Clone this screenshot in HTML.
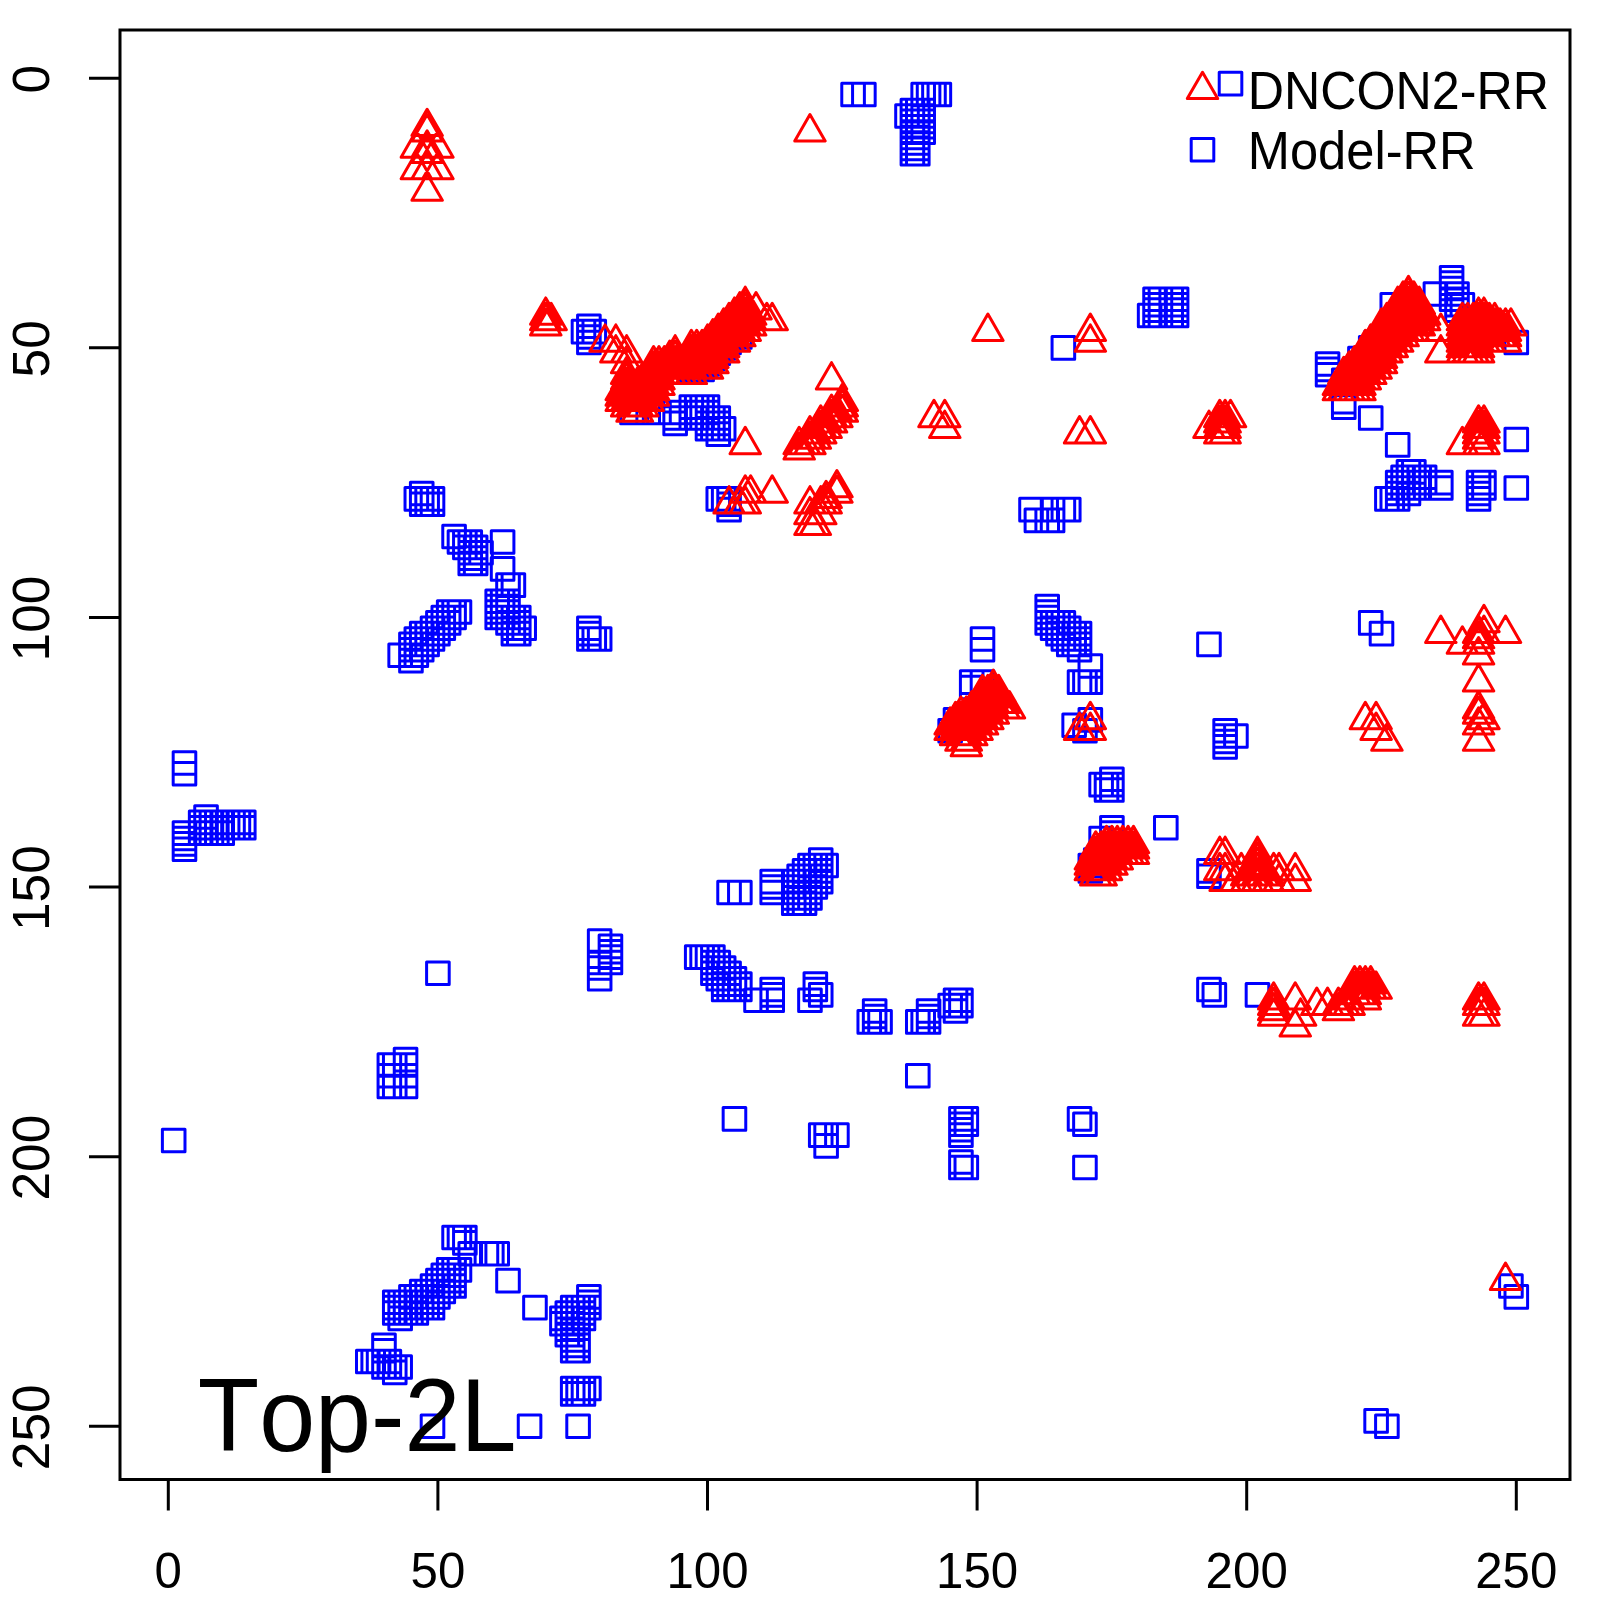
<!DOCTYPE html>
<html><head><meta charset="utf-8"><style>
html,body{margin:0;padding:0;background:#fff;width:1600px;height:1600px;overflow:hidden}
svg{display:block}
text{font-family:"Liberation Sans",sans-serif;fill:#000;font-kerning:none}
</style></head><body>
<svg width="1600" height="1600" viewBox="0 0 1600 1600">
<rect x="0" y="0" width="1600" height="1600" fill="#fff"/>
<path d="M1219.22 72.34h22.60v22.60h-22.60zM841.78 83.13h22.60v22.60h-22.60zM852.57 83.13h22.60v22.60h-22.60zM1364.81 1409.56h22.60v22.60h-22.60zM1375.59 1414.95h22.60v22.60h-22.60zM911.88 83.13h22.60v22.60h-22.60zM917.27 83.13h22.60v22.60h-22.60zM922.66 83.13h22.60v22.60h-22.60zM928.06 83.13h22.60v22.60h-22.60zM895.70 104.69h22.60v22.60h-22.60zM901.10 99.30h22.60v22.60h-22.60zM901.10 104.69h22.60v22.60h-22.60zM901.10 110.09h22.60v22.60h-22.60zM901.10 115.48h22.60v22.60h-22.60zM901.10 120.87h22.60v22.60h-22.60zM901.10 126.26h22.60v22.60h-22.60zM901.10 131.65h22.60v22.60h-22.60zM901.10 137.05h22.60v22.60h-22.60zM901.10 142.44h22.60v22.60h-22.60zM906.49 99.30h22.60v22.60h-22.60zM906.49 104.69h22.60v22.60h-22.60zM906.49 110.09h22.60v22.60h-22.60zM906.49 115.48h22.60v22.60h-22.60zM906.49 120.87h22.60v22.60h-22.60zM906.49 126.26h22.60v22.60h-22.60zM906.49 131.65h22.60v22.60h-22.60zM906.49 137.05h22.60v22.60h-22.60zM906.49 142.44h22.60v22.60h-22.60zM911.88 99.30h22.60v22.60h-22.60zM911.88 104.69h22.60v22.60h-22.60zM911.88 110.09h22.60v22.60h-22.60zM911.88 115.48h22.60v22.60h-22.60zM911.88 120.87h22.60v22.60h-22.60zM410.42 482.13h22.60v22.60h-22.60zM405.03 487.53h22.60v22.60h-22.60zM410.42 487.53h22.60v22.60h-22.60zM415.82 487.53h22.60v22.60h-22.60zM421.21 487.53h22.60v22.60h-22.60zM410.42 492.92h22.60v22.60h-22.60zM415.82 492.92h22.60v22.60h-22.60zM421.21 492.92h22.60v22.60h-22.60zM442.78 525.27h22.60v22.60h-22.60zM448.17 530.66h22.60v22.60h-22.60zM453.56 530.66h22.60v22.60h-22.60zM458.95 530.66h22.60v22.60h-22.60zM453.56 536.05h22.60v22.60h-22.60zM458.95 536.05h22.60v22.60h-22.60zM464.34 536.05h22.60v22.60h-22.60zM458.95 541.45h22.60v22.60h-22.60zM464.34 541.45h22.60v22.60h-22.60zM469.74 541.45h22.60v22.60h-22.60zM458.95 546.84h22.60v22.60h-22.60zM464.34 546.84h22.60v22.60h-22.60zM458.95 552.23h22.60v22.60h-22.60zM464.34 552.23h22.60v22.60h-22.60zM491.30 530.66h22.60v22.60h-22.60zM491.30 557.62h22.60v22.60h-22.60zM496.70 573.80h22.60v22.60h-22.60zM502.09 573.80h22.60v22.60h-22.60zM399.64 633.11h22.60v22.60h-22.60zM399.64 638.50h22.60v22.60h-22.60zM399.64 643.89h22.60v22.60h-22.60zM399.64 649.29h22.60v22.60h-22.60zM405.03 627.72h22.60v22.60h-22.60zM405.03 633.11h22.60v22.60h-22.60zM405.03 638.50h22.60v22.60h-22.60zM405.03 643.89h22.60v22.60h-22.60zM410.42 622.33h22.60v22.60h-22.60zM410.42 627.72h22.60v22.60h-22.60zM410.42 633.11h22.60v22.60h-22.60zM410.42 638.50h22.60v22.60h-22.60zM415.82 622.33h22.60v22.60h-22.60zM415.82 627.72h22.60v22.60h-22.60zM415.82 633.11h22.60v22.60h-22.60zM421.21 616.93h22.60v22.60h-22.60zM421.21 622.33h22.60v22.60h-22.60zM421.21 627.72h22.60v22.60h-22.60zM426.60 611.54h22.60v22.60h-22.60zM426.60 616.93h22.60v22.60h-22.60zM426.60 622.33h22.60v22.60h-22.60zM431.99 606.15h22.60v22.60h-22.60zM431.99 611.54h22.60v22.60h-22.60zM431.99 616.93h22.60v22.60h-22.60zM437.38 600.76h22.60v22.60h-22.60zM437.38 606.15h22.60v22.60h-22.60zM437.38 611.54h22.60v22.60h-22.60zM442.78 600.76h22.60v22.60h-22.60zM442.78 606.15h22.60v22.60h-22.60zM448.17 600.76h22.60v22.60h-22.60zM388.86 643.89h22.60v22.60h-22.60zM485.91 589.97h22.60v22.60h-22.60zM485.91 595.37h22.60v22.60h-22.60zM485.91 600.76h22.60v22.60h-22.60zM485.91 606.15h22.60v22.60h-22.60zM491.30 589.97h22.60v22.60h-22.60zM491.30 595.37h22.60v22.60h-22.60zM491.30 600.76h22.60v22.60h-22.60zM491.30 606.15h22.60v22.60h-22.60zM496.70 589.97h22.60v22.60h-22.60zM496.70 595.37h22.60v22.60h-22.60zM496.70 600.76h22.60v22.60h-22.60zM496.70 606.15h22.60v22.60h-22.60zM496.70 611.54h22.60v22.60h-22.60zM502.09 606.15h22.60v22.60h-22.60zM502.09 611.54h22.60v22.60h-22.60zM502.09 616.93h22.60v22.60h-22.60zM502.09 622.33h22.60v22.60h-22.60zM507.48 606.15h22.60v22.60h-22.60zM507.48 611.54h22.60v22.60h-22.60zM507.48 616.93h22.60v22.60h-22.60zM507.48 622.33h22.60v22.60h-22.60zM512.87 616.93h22.60v22.60h-22.60zM577.58 314.98h22.60v22.60h-22.60zM572.18 320.37h22.60v22.60h-22.60zM577.58 320.37h22.60v22.60h-22.60zM582.97 320.37h22.60v22.60h-22.60zM577.58 325.77h22.60v22.60h-22.60zM577.58 331.16h22.60v22.60h-22.60zM620.71 401.25h22.60v22.60h-22.60zM636.89 401.25h22.60v22.60h-22.60zM647.67 401.25h22.60v22.60h-22.60zM663.85 401.25h22.60v22.60h-22.60zM663.85 406.65h22.60v22.60h-22.60zM663.85 412.04h22.60v22.60h-22.60zM680.02 358.12h22.60v22.60h-22.60zM685.42 358.12h22.60v22.60h-22.60zM690.81 358.12h22.60v22.60h-22.60zM680.02 352.73h22.60v22.60h-22.60zM696.20 352.73h22.60v22.60h-22.60zM701.59 347.33h22.60v22.60h-22.60zM712.38 336.55h22.60v22.60h-22.60zM717.77 331.16h22.60v22.60h-22.60zM723.16 325.77h22.60v22.60h-22.60zM728.55 325.77h22.60v22.60h-22.60zM706.98 341.94h22.60v22.60h-22.60zM680.02 395.86h22.60v22.60h-22.60zM680.02 401.25h22.60v22.60h-22.60zM680.02 406.65h22.60v22.60h-22.60zM685.42 395.86h22.60v22.60h-22.60zM685.42 401.25h22.60v22.60h-22.60zM685.42 406.65h22.60v22.60h-22.60zM690.81 395.86h22.60v22.60h-22.60zM690.81 401.25h22.60v22.60h-22.60zM690.81 406.65h22.60v22.60h-22.60zM696.20 395.86h22.60v22.60h-22.60zM696.20 401.25h22.60v22.60h-22.60zM696.20 406.65h22.60v22.60h-22.60zM696.20 406.65h22.60v22.60h-22.60zM696.20 412.04h22.60v22.60h-22.60zM696.20 417.43h22.60v22.60h-22.60zM701.59 406.65h22.60v22.60h-22.60zM701.59 412.04h22.60v22.60h-22.60zM701.59 417.43h22.60v22.60h-22.60zM706.98 406.65h22.60v22.60h-22.60zM706.98 412.04h22.60v22.60h-22.60zM706.98 417.43h22.60v22.60h-22.60zM712.38 417.43h22.60v22.60h-22.60zM706.98 422.82h22.60v22.60h-22.60zM706.98 487.53h22.60v22.60h-22.60zM712.38 487.53h22.60v22.60h-22.60zM717.77 487.53h22.60v22.60h-22.60zM717.77 492.92h22.60v22.60h-22.60zM717.77 498.31h22.60v22.60h-22.60zM1052.07 336.55h22.60v22.60h-22.60zM1143.74 288.02h22.60v22.60h-22.60zM1143.74 293.41h22.60v22.60h-22.60zM1143.74 298.81h22.60v22.60h-22.60zM1143.74 304.20h22.60v22.60h-22.60zM1149.13 288.02h22.60v22.60h-22.60zM1149.13 293.41h22.60v22.60h-22.60zM1149.13 298.81h22.60v22.60h-22.60zM1149.13 304.20h22.60v22.60h-22.60zM1159.91 288.02h22.60v22.60h-22.60zM1159.91 293.41h22.60v22.60h-22.60zM1159.91 298.81h22.60v22.60h-22.60zM1159.91 304.20h22.60v22.60h-22.60zM1165.30 288.02h22.60v22.60h-22.60zM1165.30 293.41h22.60v22.60h-22.60zM1165.30 298.81h22.60v22.60h-22.60zM1165.30 304.20h22.60v22.60h-22.60zM1138.34 304.20h22.60v22.60h-22.60zM1316.28 352.73h22.60v22.60h-22.60zM1316.28 358.12h22.60v22.60h-22.60zM1316.28 363.51h22.60v22.60h-22.60zM1332.46 368.90h22.60v22.60h-22.60zM1348.63 347.33h22.60v22.60h-22.60zM1359.42 336.55h22.60v22.60h-22.60zM1364.81 331.16h22.60v22.60h-22.60zM1370.20 325.77h22.60v22.60h-22.60zM1380.98 293.41h22.60v22.60h-22.60zM1424.12 282.63h22.60v22.60h-22.60zM1440.30 266.45h22.60v22.60h-22.60zM1440.30 271.85h22.60v22.60h-22.60zM1440.30 277.24h22.60v22.60h-22.60zM1440.30 282.63h22.60v22.60h-22.60zM1440.30 288.02h22.60v22.60h-22.60zM1445.69 282.63h22.60v22.60h-22.60zM1445.69 288.02h22.60v22.60h-22.60zM1445.69 293.41h22.60v22.60h-22.60zM1445.69 298.81h22.60v22.60h-22.60zM1451.08 293.41h22.60v22.60h-22.60zM1505.00 331.16h22.60v22.60h-22.60zM1332.46 390.47h22.60v22.60h-22.60zM1332.46 395.86h22.60v22.60h-22.60zM1359.42 406.65h22.60v22.60h-22.60zM1386.38 433.61h22.60v22.60h-22.60zM1505.00 428.21h22.60v22.60h-22.60zM1505.00 476.74h22.60v22.60h-22.60zM1467.26 471.35h22.60v22.60h-22.60zM1467.26 476.74h22.60v22.60h-22.60zM1467.26 482.13h22.60v22.60h-22.60zM1467.26 487.53h22.60v22.60h-22.60zM1472.65 471.35h22.60v22.60h-22.60zM1472.65 476.74h22.60v22.60h-22.60zM1397.16 460.57h22.60v22.60h-22.60zM1402.55 460.57h22.60v22.60h-22.60zM1413.34 465.96h22.60v22.60h-22.60zM1413.34 471.35h22.60v22.60h-22.60zM1386.38 471.35h22.60v22.60h-22.60zM1386.38 476.74h22.60v22.60h-22.60zM1386.38 482.13h22.60v22.60h-22.60zM1386.38 487.53h22.60v22.60h-22.60zM1375.59 487.53h22.60v22.60h-22.60zM1380.98 487.53h22.60v22.60h-22.60zM1429.51 471.35h22.60v22.60h-22.60zM1429.51 476.74h22.60v22.60h-22.60zM1391.77 465.96h22.60v22.60h-22.60zM1391.77 471.35h22.60v22.60h-22.60zM1391.77 476.74h22.60v22.60h-22.60zM1397.16 465.96h22.60v22.60h-22.60zM1397.16 471.35h22.60v22.60h-22.60zM1397.16 476.74h22.60v22.60h-22.60zM1402.55 465.96h22.60v22.60h-22.60zM1402.55 471.35h22.60v22.60h-22.60zM1402.55 476.74h22.60v22.60h-22.60zM1407.94 465.96h22.60v22.60h-22.60zM1407.94 471.35h22.60v22.60h-22.60zM1407.94 476.74h22.60v22.60h-22.60zM1397.16 482.13h22.60v22.60h-22.60zM1197.66 633.11h22.60v22.60h-22.60zM1359.42 611.54h22.60v22.60h-22.60zM1370.20 622.33h22.60v22.60h-22.60zM1213.83 719.38h22.60v22.60h-22.60zM1213.83 724.77h22.60v22.60h-22.60zM1213.83 730.17h22.60v22.60h-22.60zM1213.83 735.56h22.60v22.60h-22.60zM1224.62 724.77h22.60v22.60h-22.60zM1154.52 816.44h22.60v22.60h-22.60zM1197.66 859.57h22.60v22.60h-22.60zM1197.66 864.97h22.60v22.60h-22.60zM1197.66 978.20h22.60v22.60h-22.60zM1203.05 983.59h22.60v22.60h-22.60zM1246.18 983.59h22.60v22.60h-22.60zM971.19 627.72h22.60v22.60h-22.60zM971.19 638.50h22.60v22.60h-22.60zM960.41 670.85h22.60v22.60h-22.60zM971.19 670.85h22.60v22.60h-22.60zM944.23 708.60h22.60v22.60h-22.60zM938.84 719.38h22.60v22.60h-22.60zM1035.90 595.37h22.60v22.60h-22.60zM1035.90 600.76h22.60v22.60h-22.60zM1035.90 606.15h22.60v22.60h-22.60zM1035.90 611.54h22.60v22.60h-22.60zM1041.29 611.54h22.60v22.60h-22.60zM1041.29 616.93h22.60v22.60h-22.60zM1046.68 611.54h22.60v22.60h-22.60zM1046.68 616.93h22.60v22.60h-22.60zM1046.68 622.33h22.60v22.60h-22.60zM1052.07 611.54h22.60v22.60h-22.60zM1052.07 616.93h22.60v22.60h-22.60zM1052.07 622.33h22.60v22.60h-22.60zM1052.07 627.72h22.60v22.60h-22.60zM1057.46 616.93h22.60v22.60h-22.60zM1057.46 622.33h22.60v22.60h-22.60zM1057.46 627.72h22.60v22.60h-22.60zM1057.46 633.11h22.60v22.60h-22.60zM1062.86 622.33h22.60v22.60h-22.60zM1062.86 627.72h22.60v22.60h-22.60zM1062.86 633.11h22.60v22.60h-22.60zM1068.25 622.33h22.60v22.60h-22.60zM1068.25 627.72h22.60v22.60h-22.60zM1068.25 633.11h22.60v22.60h-22.60zM1068.25 638.50h22.60v22.60h-22.60zM1079.03 654.68h22.60v22.60h-22.60zM1068.25 670.85h22.60v22.60h-22.60zM1073.64 670.85h22.60v22.60h-22.60zM1079.03 670.85h22.60v22.60h-22.60zM1062.86 713.99h22.60v22.60h-22.60zM1079.03 708.60h22.60v22.60h-22.60zM1073.64 719.38h22.60v22.60h-22.60zM1089.82 773.30h22.60v22.60h-22.60zM1095.21 773.30h22.60v22.60h-22.60zM1100.60 767.91h22.60v22.60h-22.60zM1100.60 773.30h22.60v22.60h-22.60zM1100.60 778.69h22.60v22.60h-22.60zM1095.21 778.69h22.60v22.60h-22.60zM1100.60 816.44h22.60v22.60h-22.60zM1100.60 821.83h22.60v22.60h-22.60zM1089.82 827.22h22.60v22.60h-22.60zM1084.42 848.79h22.60v22.60h-22.60zM1079.03 854.18h22.60v22.60h-22.60zM1079.03 859.57h22.60v22.60h-22.60zM717.77 881.14h22.60v22.60h-22.60zM728.55 881.14h22.60v22.60h-22.60zM960.41 676.25h22.60v22.60h-22.60zM760.90 870.36h22.60v22.60h-22.60zM760.90 875.75h22.60v22.60h-22.60zM760.90 881.14h22.60v22.60h-22.60zM782.47 891.93h22.60v22.60h-22.60zM787.86 891.93h22.60v22.60h-22.60zM793.26 891.93h22.60v22.60h-22.60zM782.47 870.36h22.60v22.60h-22.60zM782.47 875.75h22.60v22.60h-22.60zM782.47 881.14h22.60v22.60h-22.60zM782.47 886.53h22.60v22.60h-22.60zM782.47 891.93h22.60v22.60h-22.60zM787.86 864.97h22.60v22.60h-22.60zM787.86 870.36h22.60v22.60h-22.60zM787.86 875.75h22.60v22.60h-22.60zM787.86 881.14h22.60v22.60h-22.60zM787.86 886.53h22.60v22.60h-22.60zM787.86 891.93h22.60v22.60h-22.60zM793.26 859.57h22.60v22.60h-22.60zM793.26 864.97h22.60v22.60h-22.60zM793.26 870.36h22.60v22.60h-22.60zM793.26 875.75h22.60v22.60h-22.60zM793.26 881.14h22.60v22.60h-22.60zM793.26 886.53h22.60v22.60h-22.60zM793.26 891.93h22.60v22.60h-22.60zM798.65 854.18h22.60v22.60h-22.60zM798.65 859.57h22.60v22.60h-22.60zM798.65 864.97h22.60v22.60h-22.60zM798.65 870.36h22.60v22.60h-22.60zM798.65 875.75h22.60v22.60h-22.60zM798.65 881.14h22.60v22.60h-22.60zM798.65 886.53h22.60v22.60h-22.60zM804.04 854.18h22.60v22.60h-22.60zM804.04 859.57h22.60v22.60h-22.60zM804.04 864.97h22.60v22.60h-22.60zM804.04 870.36h22.60v22.60h-22.60zM804.04 875.75h22.60v22.60h-22.60zM809.43 848.79h22.60v22.60h-22.60zM809.43 854.18h22.60v22.60h-22.60zM809.43 859.57h22.60v22.60h-22.60zM809.43 864.97h22.60v22.60h-22.60zM809.43 870.36h22.60v22.60h-22.60zM814.82 854.18h22.60v22.60h-22.60zM685.42 945.85h22.60v22.60h-22.60zM690.81 945.85h22.60v22.60h-22.60zM696.20 945.85h22.60v22.60h-22.60zM701.59 945.85h22.60v22.60h-22.60zM701.59 951.24h22.60v22.60h-22.60zM701.59 956.63h22.60v22.60h-22.60zM701.59 962.02h22.60v22.60h-22.60zM706.98 951.24h22.60v22.60h-22.60zM706.98 956.63h22.60v22.60h-22.60zM706.98 962.02h22.60v22.60h-22.60zM706.98 967.41h22.60v22.60h-22.60zM712.38 956.63h22.60v22.60h-22.60zM712.38 962.02h22.60v22.60h-22.60zM712.38 967.41h22.60v22.60h-22.60zM712.38 972.81h22.60v22.60h-22.60zM712.38 978.20h22.60v22.60h-22.60zM717.77 962.02h22.60v22.60h-22.60zM717.77 967.41h22.60v22.60h-22.60zM717.77 972.81h22.60v22.60h-22.60zM717.77 978.20h22.60v22.60h-22.60zM723.16 967.41h22.60v22.60h-22.60zM723.16 972.81h22.60v22.60h-22.60zM723.16 978.20h22.60v22.60h-22.60zM728.55 972.81h22.60v22.60h-22.60zM728.55 978.20h22.60v22.60h-22.60zM744.73 988.98h22.60v22.60h-22.60zM760.90 978.20h22.60v22.60h-22.60zM760.90 983.59h22.60v22.60h-22.60zM760.90 988.98h22.60v22.60h-22.60zM804.04 972.81h22.60v22.60h-22.60zM804.04 978.20h22.60v22.60h-22.60zM809.43 983.59h22.60v22.60h-22.60zM798.65 988.98h22.60v22.60h-22.60zM863.35 999.77h22.60v22.60h-22.60zM857.96 1010.55h22.60v22.60h-22.60zM863.35 1010.55h22.60v22.60h-22.60zM868.74 1010.55h22.60v22.60h-22.60zM863.35 1005.16h22.60v22.60h-22.60zM588.36 929.67h22.60v22.60h-22.60zM588.36 951.24h22.60v22.60h-22.60zM588.36 956.63h22.60v22.60h-22.60zM588.36 967.41h22.60v22.60h-22.60zM599.14 935.06h22.60v22.60h-22.60zM599.14 940.45h22.60v22.60h-22.60zM599.14 945.85h22.60v22.60h-22.60zM599.14 951.24h22.60v22.60h-22.60zM917.27 999.77h22.60v22.60h-22.60zM917.27 1005.16h22.60v22.60h-22.60zM906.49 1010.55h22.60v22.60h-22.60zM911.88 1010.55h22.60v22.60h-22.60zM917.27 1010.55h22.60v22.60h-22.60zM938.84 994.37h22.60v22.60h-22.60zM944.23 988.98h22.60v22.60h-22.60zM949.62 988.98h22.60v22.60h-22.60zM944.23 994.37h22.60v22.60h-22.60zM949.62 994.37h22.60v22.60h-22.60zM944.23 999.77h22.60v22.60h-22.60zM906.49 1064.47h22.60v22.60h-22.60zM949.62 1107.61h22.60v22.60h-22.60zM949.62 1113.00h22.60v22.60h-22.60zM949.62 1118.39h22.60v22.60h-22.60zM949.62 1123.78h22.60v22.60h-22.60zM955.02 1107.61h22.60v22.60h-22.60zM955.02 1113.00h22.60v22.60h-22.60zM949.62 1150.74h22.60v22.60h-22.60zM949.62 1156.13h22.60v22.60h-22.60zM955.02 1156.13h22.60v22.60h-22.60zM825.61 1123.78h22.60v22.60h-22.60zM1068.25 1107.61h22.60v22.60h-22.60zM1073.64 1113.00h22.60v22.60h-22.60zM1073.64 1156.13h22.60v22.60h-22.60zM723.16 1107.61h22.60v22.60h-22.60zM809.43 1123.78h22.60v22.60h-22.60zM814.82 1123.78h22.60v22.60h-22.60zM825.61 1123.78h22.60v22.60h-22.60zM814.82 1134.57h22.60v22.60h-22.60zM173.18 751.73h22.60v22.60h-22.60zM173.18 762.52h22.60v22.60h-22.60zM173.18 821.83h22.60v22.60h-22.60zM173.18 827.22h22.60v22.60h-22.60zM173.18 832.61h22.60v22.60h-22.60zM173.18 838.01h22.60v22.60h-22.60zM194.74 805.65h22.60v22.60h-22.60zM189.35 811.05h22.60v22.60h-22.60zM194.74 811.05h22.60v22.60h-22.60zM200.14 811.05h22.60v22.60h-22.60zM205.53 811.05h22.60v22.60h-22.60zM210.92 811.05h22.60v22.60h-22.60zM216.31 811.05h22.60v22.60h-22.60zM221.70 811.05h22.60v22.60h-22.60zM227.10 811.05h22.60v22.60h-22.60zM232.49 811.05h22.60v22.60h-22.60zM216.31 816.44h22.60v22.60h-22.60zM221.70 816.44h22.60v22.60h-22.60zM227.10 816.44h22.60v22.60h-22.60zM232.49 816.44h22.60v22.60h-22.60zM189.35 816.44h22.60v22.60h-22.60zM189.35 821.83h22.60v22.60h-22.60zM194.74 816.44h22.60v22.60h-22.60zM194.74 821.83h22.60v22.60h-22.60zM200.14 816.44h22.60v22.60h-22.60zM200.14 821.83h22.60v22.60h-22.60zM205.53 816.44h22.60v22.60h-22.60zM205.53 821.83h22.60v22.60h-22.60zM210.92 816.44h22.60v22.60h-22.60zM210.92 821.83h22.60v22.60h-22.60zM426.60 962.02h22.60v22.60h-22.60zM162.39 1129.17h22.60v22.60h-22.60zM394.25 1048.29h22.60v22.60h-22.60zM378.07 1053.69h22.60v22.60h-22.60zM378.07 1064.47h22.60v22.60h-22.60zM378.07 1075.25h22.60v22.60h-22.60zM383.46 1053.69h22.60v22.60h-22.60zM383.46 1064.47h22.60v22.60h-22.60zM383.46 1075.25h22.60v22.60h-22.60zM394.25 1053.69h22.60v22.60h-22.60zM394.25 1064.47h22.60v22.60h-22.60zM394.25 1075.25h22.60v22.60h-22.60zM421.21 1414.95h22.60v22.60h-22.60zM518.26 1414.95h22.60v22.60h-22.60zM566.79 1414.95h22.60v22.60h-22.60zM561.40 1377.21h22.60v22.60h-22.60zM566.79 1377.21h22.60v22.60h-22.60zM572.18 1377.21h22.60v22.60h-22.60zM577.58 1377.21h22.60v22.60h-22.60zM561.40 1382.60h22.60v22.60h-22.60zM566.79 1382.60h22.60v22.60h-22.60zM572.18 1382.60h22.60v22.60h-22.60zM577.58 1285.54h22.60v22.60h-22.60zM577.58 1290.93h22.60v22.60h-22.60zM577.58 1296.33h22.60v22.60h-22.60zM561.40 1296.33h22.60v22.60h-22.60zM566.79 1296.33h22.60v22.60h-22.60zM572.18 1296.33h22.60v22.60h-22.60zM556.01 1301.72h22.60v22.60h-22.60zM561.40 1301.72h22.60v22.60h-22.60zM566.79 1301.72h22.60v22.60h-22.60zM572.18 1301.72h22.60v22.60h-22.60zM572.18 1307.11h22.60v22.60h-22.60zM550.62 1307.11h22.60v22.60h-22.60zM556.01 1307.11h22.60v22.60h-22.60zM561.40 1307.11h22.60v22.60h-22.60zM566.79 1307.11h22.60v22.60h-22.60zM550.62 1312.50h22.60v22.60h-22.60zM556.01 1312.50h22.60v22.60h-22.60zM561.40 1312.50h22.60v22.60h-22.60zM556.01 1317.89h22.60v22.60h-22.60zM561.40 1317.89h22.60v22.60h-22.60zM556.01 1323.29h22.60v22.60h-22.60zM561.40 1323.29h22.60v22.60h-22.60zM561.40 1328.68h22.60v22.60h-22.60zM561.40 1334.07h22.60v22.60h-22.60zM561.40 1339.46h22.60v22.60h-22.60zM566.79 1339.46h22.60v22.60h-22.60zM566.79 1328.68h22.60v22.60h-22.60zM566.79 1334.07h22.60v22.60h-22.60zM523.66 1296.33h22.60v22.60h-22.60zM496.70 1269.37h22.60v22.60h-22.60zM442.78 1226.23h22.60v22.60h-22.60zM448.17 1226.23h22.60v22.60h-22.60zM453.56 1226.23h22.60v22.60h-22.60zM453.56 1231.62h22.60v22.60h-22.60zM458.95 1242.41h22.60v22.60h-22.60zM475.13 1242.41h22.60v22.60h-22.60zM480.52 1242.41h22.60v22.60h-22.60zM485.91 1242.41h22.60v22.60h-22.60zM383.46 1290.93h22.60v22.60h-22.60zM383.46 1296.33h22.60v22.60h-22.60zM383.46 1301.72h22.60v22.60h-22.60zM388.86 1290.93h22.60v22.60h-22.60zM388.86 1296.33h22.60v22.60h-22.60zM388.86 1301.72h22.60v22.60h-22.60zM388.86 1307.11h22.60v22.60h-22.60zM394.25 1290.93h22.60v22.60h-22.60zM394.25 1296.33h22.60v22.60h-22.60zM394.25 1301.72h22.60v22.60h-22.60zM399.64 1285.54h22.60v22.60h-22.60zM399.64 1290.93h22.60v22.60h-22.60zM399.64 1296.33h22.60v22.60h-22.60zM399.64 1301.72h22.60v22.60h-22.60zM405.03 1285.54h22.60v22.60h-22.60zM405.03 1290.93h22.60v22.60h-22.60zM405.03 1296.33h22.60v22.60h-22.60zM405.03 1301.72h22.60v22.60h-22.60zM410.42 1280.15h22.60v22.60h-22.60zM410.42 1285.54h22.60v22.60h-22.60zM410.42 1290.93h22.60v22.60h-22.60zM410.42 1296.33h22.60v22.60h-22.60zM415.82 1280.15h22.60v22.60h-22.60zM415.82 1285.54h22.60v22.60h-22.60zM415.82 1290.93h22.60v22.60h-22.60zM415.82 1296.33h22.60v22.60h-22.60zM421.21 1274.76h22.60v22.60h-22.60zM421.21 1280.15h22.60v22.60h-22.60zM421.21 1285.54h22.60v22.60h-22.60zM421.21 1290.93h22.60v22.60h-22.60zM421.21 1296.33h22.60v22.60h-22.60zM426.60 1269.37h22.60v22.60h-22.60zM426.60 1274.76h22.60v22.60h-22.60zM426.60 1280.15h22.60v22.60h-22.60zM426.60 1285.54h22.60v22.60h-22.60zM431.99 1263.97h22.60v22.60h-22.60zM431.99 1269.37h22.60v22.60h-22.60zM431.99 1274.76h22.60v22.60h-22.60zM431.99 1280.15h22.60v22.60h-22.60zM437.38 1258.58h22.60v22.60h-22.60zM437.38 1263.97h22.60v22.60h-22.60zM437.38 1269.37h22.60v22.60h-22.60zM437.38 1274.76h22.60v22.60h-22.60zM442.78 1258.58h22.60v22.60h-22.60zM442.78 1263.97h22.60v22.60h-22.60zM442.78 1269.37h22.60v22.60h-22.60zM442.78 1274.76h22.60v22.60h-22.60zM448.17 1258.58h22.60v22.60h-22.60zM372.68 1334.07h22.60v22.60h-22.60zM372.68 1339.46h22.60v22.60h-22.60zM356.50 1350.25h22.60v22.60h-22.60zM361.90 1350.25h22.60v22.60h-22.60zM367.29 1350.25h22.60v22.60h-22.60zM372.68 1350.25h22.60v22.60h-22.60zM372.68 1355.64h22.60v22.60h-22.60zM378.07 1350.25h22.60v22.60h-22.60zM378.07 1355.64h22.60v22.60h-22.60zM383.46 1355.64h22.60v22.60h-22.60zM383.46 1361.03h22.60v22.60h-22.60zM388.86 1355.64h22.60v22.60h-22.60zM1499.61 1274.76h22.60v22.60h-22.60zM1505.00 1285.54h22.60v22.60h-22.60zM577.58 616.93h22.60v22.60h-22.60zM577.58 622.33h22.60v22.60h-22.60zM577.58 627.72h22.60v22.60h-22.60zM582.97 627.72h22.60v22.60h-22.60zM588.36 627.72h22.60v22.60h-22.60zM1019.72 498.31h22.60v22.60h-22.60zM1041.29 498.31h22.60v22.60h-22.60zM1052.07 498.31h22.60v22.60h-22.60zM1057.46 498.31h22.60v22.60h-22.60zM1025.11 509.09h22.60v22.60h-22.60zM1035.90 509.09h22.60v22.60h-22.60zM1041.29 509.09h22.60v22.60h-22.60z" fill="none" stroke="#0000ff" stroke-width="3.0" stroke-linejoin="round"/>
<path d="M809.95 114.60L825.17 140.96H794.73zM427.12 109.21L442.33 135.56H411.90zM427.12 114.60L442.33 140.96H411.90zM416.33 130.77L431.55 157.13H401.11zM427.12 130.77L442.33 157.13H411.90zM437.90 130.77L453.12 157.13H422.68zM427.12 136.17L442.33 162.52H411.90zM416.33 152.34L431.55 178.70H401.11zM427.12 152.34L442.33 178.70H411.90zM437.90 152.34L453.12 178.70H422.68zM427.12 173.91L442.33 200.27H411.90zM545.74 297.93L560.96 324.28H530.52zM545.74 303.32L560.96 329.68H530.52zM545.74 308.71L560.96 335.07H530.52zM551.13 303.32L566.35 329.68H535.91zM605.05 324.89L620.27 351.24H589.83zM615.84 324.89L631.05 351.24H600.62zM615.84 335.67L631.05 362.03H600.62zM626.62 335.67L641.84 362.03H611.40zM626.62 346.45L641.84 372.81H611.40zM626.62 357.24L641.84 383.60H611.40zM626.62 362.63L641.84 388.99H611.40zM621.23 384.20L636.45 410.56H606.01zM626.62 389.59L641.84 415.95H611.40zM632.01 394.98L647.23 421.34H616.79zM648.19 384.20L663.41 410.56H632.97zM637.40 394.98L652.62 421.34H622.19zM675.15 335.67L690.37 362.03H659.93zM653.58 346.45L668.80 372.81H638.36zM658.97 346.45L674.19 372.81H643.75zM664.36 346.45L679.58 372.81H649.15zM745.24 287.14L760.46 313.50H730.03zM756.03 292.53L771.25 318.89H740.81zM766.81 303.32L782.03 329.68H751.59zM772.20 303.32L787.42 329.68H756.99zM691.32 341.06L706.54 367.42H676.11zM691.32 346.45L706.54 372.81H676.11zM691.32 351.85L706.54 378.20H676.11zM691.32 357.24L706.54 383.60H676.11zM696.72 335.67L711.93 362.03H681.50zM696.72 341.06L711.93 367.42H681.50zM696.72 346.45L711.93 372.81H681.50zM696.72 351.85L711.93 378.20H681.50zM702.11 330.28L717.33 356.64H686.89zM702.11 335.67L717.33 362.03H686.89zM702.11 341.06L717.33 367.42H686.89zM702.11 346.45L717.33 372.81H686.89zM702.11 351.85L717.33 378.20H686.89zM707.50 324.89L722.72 351.24H692.28zM707.50 330.28L722.72 356.64H692.28zM707.50 335.67L722.72 362.03H692.28zM707.50 341.06L722.72 367.42H692.28zM707.50 346.45L722.72 372.81H692.28zM707.50 351.85L722.72 378.20H692.28zM712.89 319.49L728.11 345.85H697.67zM712.89 324.89L728.11 351.24H697.67zM712.89 330.28L728.11 356.64H697.67zM712.89 335.67L728.11 362.03H697.67zM712.89 341.06L728.11 367.42H697.67zM712.89 346.45L728.11 372.81H697.67zM718.28 314.10L733.50 340.46H703.07zM718.28 319.49L733.50 345.85H703.07zM718.28 324.89L733.50 351.24H703.07zM718.28 330.28L733.50 356.64H703.07zM718.28 335.67L733.50 362.03H703.07zM723.68 308.71L738.89 335.07H708.46zM723.68 314.10L738.89 340.46H708.46zM723.68 319.49L738.89 345.85H708.46zM723.68 324.89L738.89 351.24H708.46zM723.68 330.28L738.89 356.64H708.46zM723.68 335.67L738.89 362.03H708.46zM729.07 303.32L744.29 329.68H713.85zM729.07 308.71L744.29 335.07H713.85zM729.07 314.10L744.29 340.46H713.85zM729.07 319.49L744.29 345.85H713.85zM729.07 324.89L744.29 351.24H713.85zM734.46 297.93L749.68 324.28H719.24zM734.46 303.32L749.68 329.68H719.24zM734.46 308.71L749.68 335.07H719.24zM734.46 314.10L749.68 340.46H719.24zM734.46 319.49L749.68 345.85H719.24zM734.46 324.89L749.68 351.24H719.24zM739.85 292.53L755.07 318.89H724.63zM739.85 297.93L755.07 324.28H724.63zM739.85 303.32L755.07 329.68H724.63zM739.85 308.71L755.07 335.07H724.63zM739.85 314.10L755.07 340.46H724.63zM739.85 319.49L755.07 345.85H724.63zM745.24 287.14L760.46 313.50H730.03zM745.24 292.53L760.46 318.89H730.03zM745.24 297.93L760.46 324.28H730.03zM745.24 303.32L760.46 329.68H730.03zM745.24 308.71L760.46 335.07H730.03zM745.24 314.10L760.46 340.46H730.03zM750.64 297.93L765.85 324.28H735.42zM750.64 303.32L765.85 329.68H735.42zM750.64 308.71L765.85 335.07H735.42zM745.24 427.33L760.46 453.69H730.03zM729.07 486.65L744.29 513.00H713.85zM739.85 486.65L755.07 513.00H724.63zM745.24 475.86L760.46 502.22H730.03zM750.64 475.86L765.85 502.22H735.42zM745.24 486.65L760.46 513.00H730.03zM772.20 475.86L787.42 502.22H756.99zM836.91 470.47L852.13 496.83H821.69zM836.91 475.86L852.13 502.22H821.69zM826.12 481.25L841.34 507.61H810.91zM826.12 486.65L841.34 513.00H810.91zM820.73 486.65L835.95 513.00H805.51zM809.95 486.65L825.17 513.00H794.73zM809.95 497.43L825.17 523.79H794.73zM820.73 497.43L835.95 523.79H805.51zM809.95 508.21L825.17 534.57H794.73zM815.34 508.21L830.56 534.57H800.12zM831.52 362.63L846.73 388.99H816.30zM799.16 427.33L814.38 453.69H783.95zM799.16 432.73L814.38 459.08H783.95zM804.56 427.33L819.77 453.69H789.34zM809.95 416.55L825.17 442.91H794.73zM809.95 421.94L825.17 448.30H794.73zM809.95 427.33L825.17 453.69H794.73zM815.34 416.55L830.56 442.91H800.12zM815.34 421.94L830.56 448.30H800.12zM820.73 405.77L835.95 432.12H805.51zM820.73 411.16L835.95 437.52H805.51zM820.73 416.55L835.95 442.91H805.51zM826.12 405.77L841.34 432.12H810.91zM826.12 411.16L841.34 437.52H810.91zM831.52 394.98L846.73 421.34H816.30zM831.52 400.37L846.73 426.73H816.30zM831.52 405.77L846.73 432.12H816.30zM836.91 394.98L852.13 421.34H821.69zM836.91 400.37L852.13 426.73H821.69zM842.30 384.20L857.52 410.56H827.08zM842.30 389.59L857.52 415.95H827.08zM842.30 394.98L857.52 421.34H827.08zM933.96 400.37L949.18 426.73H918.75zM944.75 400.37L959.97 426.73H929.53zM944.75 411.16L959.97 437.52H929.53zM987.88 314.10L1003.10 340.46H972.67zM1090.33 314.10L1105.55 340.46H1075.11zM1090.33 324.89L1105.55 351.24H1075.11zM1079.55 416.55L1094.77 442.91H1064.33zM1090.33 416.55L1105.55 442.91H1075.11zM1219.74 400.37L1234.96 426.73H1204.52zM1225.13 400.37L1240.35 426.73H1209.91zM1230.52 400.37L1245.74 426.73H1215.31zM1219.74 405.77L1234.96 432.12H1204.52zM1225.13 405.77L1240.35 432.12H1209.91zM1225.13 411.16L1240.35 437.52H1209.91zM1219.74 411.16L1234.96 437.52H1204.52zM1219.74 416.55L1234.96 442.91H1204.52zM1225.13 416.55L1240.35 442.91H1209.91zM1208.96 411.16L1224.17 437.52H1193.74zM1408.46 276.36L1423.68 302.72H1393.24zM1403.07 281.75L1418.29 308.11H1387.85zM1408.46 281.75L1423.68 308.11H1393.24zM1413.85 281.75L1429.07 308.11H1398.63zM1397.68 287.14L1412.89 313.50H1382.46zM1403.07 287.14L1418.29 313.50H1387.85zM1408.46 287.14L1423.68 313.50H1393.24zM1413.85 287.14L1429.07 313.50H1398.63zM1419.24 287.14L1434.46 313.50H1404.03zM1397.68 292.53L1412.89 318.89H1382.46zM1403.07 292.53L1418.29 318.89H1387.85zM1408.46 292.53L1423.68 318.89H1393.24zM1413.85 292.53L1429.07 318.89H1398.63zM1419.24 292.53L1434.46 318.89H1404.03zM1392.28 297.93L1407.50 324.28H1377.07zM1397.68 297.93L1412.89 324.28H1382.46zM1403.07 297.93L1418.29 324.28H1387.85zM1408.46 297.93L1423.68 324.28H1393.24zM1413.85 297.93L1429.07 324.28H1398.63zM1419.24 297.93L1434.46 324.28H1404.03zM1424.64 297.93L1439.85 324.28H1409.42zM1386.89 303.32L1402.11 329.68H1371.67zM1392.28 303.32L1407.50 329.68H1377.07zM1397.68 303.32L1412.89 329.68H1382.46zM1403.07 303.32L1418.29 329.68H1387.85zM1408.46 303.32L1423.68 329.68H1393.24zM1413.85 303.32L1429.07 329.68H1398.63zM1419.24 303.32L1434.46 329.68H1404.03zM1424.64 303.32L1439.85 329.68H1409.42zM1381.50 308.71L1396.72 335.07H1366.28zM1386.89 308.71L1402.11 335.07H1371.67zM1392.28 308.71L1407.50 335.07H1377.07zM1397.68 308.71L1412.89 335.07H1382.46zM1403.07 308.71L1418.29 335.07H1387.85zM1408.46 308.71L1423.68 335.07H1393.24zM1413.85 308.71L1429.07 335.07H1398.63zM1419.24 308.71L1434.46 335.07H1404.03zM1381.50 314.10L1396.72 340.46H1366.28zM1386.89 314.10L1402.11 340.46H1371.67zM1392.28 314.10L1407.50 340.46H1377.07zM1397.68 314.10L1412.89 340.46H1382.46zM1403.07 314.10L1418.29 340.46H1387.85zM1408.46 314.10L1423.68 340.46H1393.24zM1413.85 314.10L1429.07 340.46H1398.63zM1376.11 319.49L1391.33 345.85H1360.89zM1381.50 319.49L1396.72 345.85H1366.28zM1386.89 319.49L1402.11 345.85H1371.67zM1392.28 319.49L1407.50 345.85H1377.07zM1397.68 319.49L1412.89 345.85H1382.46zM1403.07 319.49L1418.29 345.85H1387.85zM1370.72 324.89L1385.93 351.24H1355.50zM1376.11 324.89L1391.33 351.24H1360.89zM1381.50 324.89L1396.72 351.24H1366.28zM1386.89 324.89L1402.11 351.24H1371.67zM1392.28 324.89L1407.50 351.24H1377.07zM1397.68 324.89L1412.89 351.24H1382.46zM1365.32 330.28L1380.54 356.64H1350.11zM1370.72 330.28L1385.93 356.64H1355.50zM1376.11 330.28L1391.33 356.64H1360.89zM1381.50 330.28L1396.72 356.64H1366.28zM1386.89 330.28L1402.11 356.64H1371.67zM1392.28 330.28L1407.50 356.64H1377.07zM1365.32 335.67L1380.54 362.03H1350.11zM1370.72 335.67L1385.93 362.03H1355.50zM1376.11 335.67L1391.33 362.03H1360.89zM1381.50 335.67L1396.72 362.03H1366.28zM1386.89 335.67L1402.11 362.03H1371.67zM1359.93 341.06L1375.15 367.42H1344.71zM1365.32 341.06L1380.54 367.42H1350.11zM1370.72 341.06L1385.93 367.42H1355.50zM1376.11 341.06L1391.33 367.42H1360.89zM1381.50 341.06L1396.72 367.42H1366.28zM1354.54 346.45L1369.76 372.81H1339.32zM1359.93 346.45L1375.15 372.81H1344.71zM1365.32 346.45L1380.54 372.81H1350.11zM1370.72 346.45L1385.93 372.81H1355.50zM1376.11 346.45L1391.33 372.81H1360.89zM1381.50 346.45L1396.72 372.81H1366.28zM1349.15 351.85L1364.37 378.20H1333.93zM1354.54 351.85L1369.76 378.20H1339.32zM1359.93 351.85L1375.15 378.20H1344.71zM1365.32 351.85L1380.54 378.20H1350.11zM1370.72 351.85L1385.93 378.20H1355.50zM1376.11 351.85L1391.33 378.20H1360.89zM1343.76 357.24L1358.97 383.60H1328.54zM1349.15 357.24L1364.37 383.60H1333.93zM1354.54 357.24L1369.76 383.60H1339.32zM1359.93 357.24L1375.15 383.60H1344.71zM1365.32 357.24L1380.54 383.60H1350.11zM1370.72 357.24L1385.93 383.60H1355.50zM1343.76 362.63L1358.97 388.99H1328.54zM1349.15 362.63L1364.37 388.99H1333.93zM1354.54 362.63L1369.76 388.99H1339.32zM1359.93 362.63L1375.15 388.99H1344.71zM1365.32 362.63L1380.54 388.99H1350.11zM1338.36 368.02L1353.58 394.38H1323.15zM1343.76 368.02L1358.97 394.38H1328.54zM1349.15 368.02L1364.37 394.38H1333.93zM1354.54 368.02L1369.76 394.38H1339.32zM1359.93 368.02L1375.15 394.38H1344.71zM1338.36 373.41L1353.58 399.77H1323.15zM1343.76 373.41L1358.97 399.77H1328.54zM1349.15 373.41L1364.37 399.77H1333.93zM1354.54 373.41L1369.76 399.77H1339.32zM1359.93 373.41L1375.15 399.77H1344.71zM1440.81 314.10L1456.03 340.46H1425.59zM1440.81 335.67L1456.03 362.03H1425.59zM1478.56 297.93L1493.77 324.28H1463.34zM1483.95 297.93L1499.17 324.28H1468.73zM1510.91 308.71L1526.13 335.07H1495.69zM1462.38 303.32L1477.60 329.68H1447.16zM1462.38 308.71L1477.60 335.07H1447.16zM1462.38 314.10L1477.60 340.46H1447.16zM1462.38 319.49L1477.60 345.85H1447.16zM1462.38 324.89L1477.60 351.24H1447.16zM1467.77 303.32L1482.99 329.68H1452.55zM1467.77 308.71L1482.99 335.07H1452.55zM1467.77 314.10L1482.99 340.46H1452.55zM1467.77 319.49L1482.99 345.85H1452.55zM1467.77 324.89L1482.99 351.24H1452.55zM1473.16 303.32L1488.38 329.68H1457.95zM1473.16 308.71L1488.38 335.07H1457.95zM1473.16 314.10L1488.38 340.46H1457.95zM1473.16 319.49L1488.38 345.85H1457.95zM1473.16 324.89L1488.38 351.24H1457.95zM1478.56 303.32L1493.77 329.68H1463.34zM1478.56 308.71L1493.77 335.07H1463.34zM1478.56 314.10L1493.77 340.46H1463.34zM1478.56 319.49L1493.77 345.85H1463.34zM1478.56 324.89L1493.77 351.24H1463.34zM1483.95 303.32L1499.17 329.68H1468.73zM1483.95 308.71L1499.17 335.07H1468.73zM1483.95 314.10L1499.17 340.46H1468.73zM1483.95 319.49L1499.17 345.85H1468.73zM1483.95 324.89L1499.17 351.24H1468.73zM1489.34 303.32L1504.56 329.68H1474.12zM1489.34 308.71L1504.56 335.07H1474.12zM1489.34 314.10L1504.56 340.46H1474.12zM1489.34 319.49L1504.56 345.85H1474.12zM1489.34 324.89L1504.56 351.24H1474.12zM1462.38 330.28L1477.60 356.64H1447.16zM1462.38 335.67L1477.60 362.03H1447.16zM1467.77 330.28L1482.99 356.64H1452.55zM1467.77 335.67L1482.99 362.03H1452.55zM1473.16 330.28L1488.38 356.64H1457.95zM1473.16 335.67L1488.38 362.03H1457.95zM1478.56 330.28L1493.77 356.64H1463.34zM1478.56 335.67L1493.77 362.03H1463.34zM1494.73 303.32L1509.95 329.68H1479.51zM1494.73 308.71L1509.95 335.07H1479.51zM1494.73 314.10L1509.95 340.46H1479.51zM1494.73 319.49L1509.95 345.85H1479.51zM1500.12 308.71L1515.34 335.07H1484.91zM1500.12 314.10L1515.34 340.46H1484.91zM1500.12 319.49L1515.34 345.85H1484.91zM1505.52 308.71L1520.73 335.07H1490.30zM1505.52 314.10L1520.73 340.46H1490.30zM1505.52 319.49L1520.73 345.85H1490.30zM1505.52 324.89L1520.73 351.24H1490.30zM1478.56 405.77L1493.77 432.12H1463.34zM1483.95 405.77L1499.17 432.12H1468.73zM1478.56 411.16L1493.77 437.52H1463.34zM1483.95 411.16L1499.17 437.52H1468.73zM1478.56 416.55L1493.77 442.91H1463.34zM1483.95 416.55L1499.17 442.91H1468.73zM1478.56 421.94L1493.77 448.30H1463.34zM1462.38 427.33L1477.60 453.69H1447.16zM1478.56 427.33L1493.77 453.69H1463.34zM1483.95 427.33L1499.17 453.69H1468.73zM1440.81 616.05L1456.03 642.41H1425.59zM1462.38 626.84L1477.60 653.20H1447.16zM1483.95 605.27L1499.17 631.63H1468.73zM1478.56 616.05L1493.77 642.41H1463.34zM1483.95 616.05L1499.17 642.41H1468.73zM1505.52 616.05L1520.73 642.41H1490.30zM1478.56 626.84L1493.77 653.20H1463.34zM1478.56 637.62L1493.77 663.98H1463.34zM1478.56 621.45L1493.77 647.80H1463.34zM1478.56 664.58L1493.77 690.94H1463.34zM1478.56 691.54L1493.77 717.90H1463.34zM1478.56 696.93L1493.77 723.29H1463.34zM1483.95 702.33L1499.17 728.68H1468.73zM1478.56 707.72L1493.77 734.08H1463.34zM1478.56 723.89L1493.77 750.25H1463.34zM1365.32 702.33L1380.54 728.68H1350.11zM1376.11 702.33L1391.33 728.68H1360.89zM1376.11 713.11L1391.33 739.47H1360.89zM1386.89 723.89L1402.11 750.25H1371.67zM1219.74 837.13L1234.96 863.48H1204.52zM1225.13 837.13L1240.35 863.48H1209.91zM1257.48 837.13L1272.70 863.48H1242.27zM1257.48 842.52L1272.70 868.88H1242.27zM1257.48 847.91L1272.70 874.27H1242.27zM1225.13 864.09L1240.35 890.44H1209.91zM1246.70 858.69L1261.92 885.05H1231.48zM1252.09 858.69L1267.31 885.05H1236.87zM1257.48 858.69L1272.70 885.05H1242.27zM1262.88 858.69L1278.09 885.05H1247.66zM1268.27 858.69L1283.49 885.05H1253.05zM1235.92 864.09L1251.13 890.44H1220.70zM1246.70 864.09L1261.92 890.44H1231.48zM1257.48 864.09L1272.70 890.44H1242.27zM1268.27 864.09L1283.49 890.44H1253.05zM1279.05 864.09L1294.27 890.44H1263.83zM1295.23 864.09L1310.45 890.44H1280.01zM1219.74 853.30L1234.96 879.66H1204.52zM1225.13 853.30L1240.35 879.66H1209.91zM1241.31 853.30L1256.53 879.66H1226.09zM1252.09 853.30L1267.31 879.66H1236.87zM1257.48 853.30L1272.70 879.66H1242.27zM1262.88 853.30L1278.09 879.66H1247.66zM1273.66 853.30L1288.88 879.66H1258.44zM1279.05 853.30L1294.27 879.66H1263.83zM1295.23 853.30L1310.45 879.66H1280.01zM1273.66 982.71L1288.88 1009.07H1258.44zM1295.23 982.71L1310.45 1009.07H1280.01zM1273.66 988.10L1288.88 1014.46H1258.44zM1273.66 993.49L1288.88 1019.85H1258.44zM1273.66 998.89L1288.88 1025.24H1258.44zM1300.62 998.89L1315.84 1025.24H1285.40zM1295.23 1009.67L1310.45 1036.03H1280.01zM1316.80 988.10L1332.01 1014.46H1301.58zM1327.58 988.10L1342.80 1014.46H1312.36zM1338.36 988.10L1353.58 1014.46H1323.15zM1338.36 993.49L1353.58 1019.85H1323.15zM1343.76 988.10L1358.97 1014.46H1328.54zM1349.15 988.10L1364.37 1014.46H1333.93zM1349.15 982.71L1364.37 1009.07H1333.93zM1354.54 977.32L1369.76 1003.68H1339.32zM1359.93 977.32L1375.15 1003.68H1344.71zM1354.54 966.53L1369.76 992.89H1339.32zM1359.93 966.53L1375.15 992.89H1344.71zM1365.32 966.53L1380.54 992.89H1350.11zM1370.72 966.53L1385.93 992.89H1355.50zM1365.32 971.93L1380.54 998.28H1350.11zM1370.72 971.93L1385.93 998.28H1355.50zM1376.11 971.93L1391.33 998.28H1360.89zM1359.93 971.93L1375.15 998.28H1344.71zM1354.54 971.93L1369.76 998.28H1339.32zM1365.32 977.32L1380.54 1003.68H1350.11zM1365.32 982.71L1380.54 1009.07H1350.11zM1478.56 982.71L1493.77 1009.07H1463.34zM1483.95 982.71L1499.17 1009.07H1468.73zM1478.56 988.10L1493.77 1014.46H1463.34zM1483.95 988.10L1499.17 1014.46H1468.73zM1478.56 998.89L1493.77 1025.24H1463.34zM1483.95 998.89L1499.17 1025.24H1468.73zM950.14 707.72L965.36 734.08H934.92zM950.14 713.11L965.36 739.47H934.92zM955.53 702.33L970.75 728.68H940.31zM955.53 707.72L970.75 734.08H940.31zM955.53 713.11L970.75 739.47H940.31zM955.53 718.50L970.75 744.86H940.31zM960.92 696.93L976.14 723.29H945.71zM960.92 702.33L976.14 728.68H945.71zM960.92 707.72L976.14 734.08H945.71zM960.92 713.11L976.14 739.47H945.71zM960.92 718.50L976.14 744.86H945.71zM960.92 723.89L976.14 750.25H945.71zM966.32 696.93L981.53 723.29H951.10zM966.32 702.33L981.53 728.68H951.10zM966.32 707.72L981.53 734.08H951.10zM966.32 713.11L981.53 739.47H951.10zM966.32 718.50L981.53 744.86H951.10zM966.32 723.89L981.53 750.25H951.10zM966.32 729.29L981.53 755.64H951.10zM971.71 691.54L986.93 717.90H956.49zM971.71 696.93L986.93 723.29H956.49zM971.71 702.33L986.93 728.68H956.49zM971.71 707.72L986.93 734.08H956.49zM971.71 713.11L986.93 739.47H956.49zM971.71 718.50L986.93 744.86H956.49zM977.10 686.15L992.32 712.51H961.88zM977.10 691.54L992.32 717.90H961.88zM977.10 696.93L992.32 723.29H961.88zM977.10 702.33L992.32 728.68H961.88zM977.10 707.72L992.32 734.08H961.88zM977.10 713.11L992.32 739.47H961.88zM982.49 675.37L997.71 701.72H967.27zM982.49 680.76L997.71 707.12H967.27zM982.49 686.15L997.71 712.51H967.27zM982.49 691.54L997.71 717.90H967.27zM982.49 696.93L997.71 723.29H967.27zM982.49 702.33L997.71 728.68H967.27zM982.49 707.72L997.71 734.08H967.27zM987.88 675.37L1003.10 701.72H972.67zM987.88 680.76L1003.10 707.12H972.67zM987.88 686.15L1003.10 712.51H972.67zM987.88 691.54L1003.10 717.90H972.67zM987.88 696.93L1003.10 723.29H972.67zM987.88 702.33L1003.10 728.68H972.67zM993.28 669.97L1008.49 696.33H978.06zM993.28 675.37L1008.49 701.72H978.06zM993.28 680.76L1008.49 707.12H978.06zM993.28 686.15L1008.49 712.51H978.06zM993.28 691.54L1008.49 717.90H978.06zM993.28 696.93L1008.49 723.29H978.06zM998.67 675.37L1013.89 701.72H983.45zM998.67 680.76L1013.89 707.12H983.45zM998.67 686.15L1013.89 712.51H983.45zM1004.06 686.15L1019.28 712.51H988.84zM1004.06 691.54L1019.28 717.90H988.84zM1009.45 691.54L1024.67 717.90H994.23zM1090.33 702.33L1105.55 728.68H1075.11zM1090.33 713.11L1105.55 739.47H1075.11zM1079.55 713.11L1094.77 739.47H1064.33zM1106.51 826.34L1121.73 852.70H1091.29zM1111.90 826.34L1127.12 852.70H1096.68zM1117.29 826.34L1132.51 852.70H1102.07zM1122.68 826.34L1137.90 852.70H1107.47zM1128.08 826.34L1143.29 852.70H1112.86zM1133.47 826.34L1148.69 852.70H1118.25zM1101.12 831.73L1116.33 858.09H1085.90zM1090.33 842.52L1105.55 868.88H1075.11zM1133.47 837.13L1148.69 863.48H1118.25zM1095.72 831.73L1110.94 858.09H1080.51zM1095.72 837.13L1110.94 863.48H1080.51zM1095.72 842.52L1110.94 868.88H1080.51zM1095.72 847.91L1110.94 874.27H1080.51zM1101.12 831.73L1116.33 858.09H1085.90zM1101.12 837.13L1116.33 863.48H1085.90zM1101.12 842.52L1116.33 868.88H1085.90zM1101.12 847.91L1116.33 874.27H1085.90zM1106.51 831.73L1121.73 858.09H1091.29zM1106.51 837.13L1121.73 863.48H1091.29zM1106.51 842.52L1121.73 868.88H1091.29zM1106.51 847.91L1121.73 874.27H1091.29zM1111.90 831.73L1127.12 858.09H1096.68zM1111.90 837.13L1127.12 863.48H1096.68zM1111.90 842.52L1127.12 868.88H1096.68zM1111.90 847.91L1127.12 874.27H1096.68zM1117.29 831.73L1132.51 858.09H1102.07zM1117.29 837.13L1132.51 863.48H1102.07zM1117.29 842.52L1132.51 868.88H1102.07zM1122.68 831.73L1137.90 858.09H1107.47zM1122.68 837.13L1137.90 863.48H1107.47zM1128.08 831.73L1143.29 858.09H1112.86zM1128.08 837.13L1143.29 863.48H1112.86zM1090.33 847.91L1105.55 874.27H1075.11zM1090.33 853.30L1105.55 879.66H1075.11zM1095.72 853.30L1110.94 879.66H1080.51zM1095.72 858.69L1110.94 885.05H1080.51zM1101.12 853.30L1116.33 879.66H1085.90zM1101.12 858.69L1116.33 885.05H1085.90zM1106.51 853.30L1121.73 879.66H1091.29zM1111.90 847.91L1127.12 874.27H1096.68zM1117.29 842.52L1132.51 868.88H1102.07zM1122.68 837.13L1137.90 863.48H1107.47zM1128.08 837.13L1143.29 863.48H1112.86zM1133.47 831.73L1148.69 858.09H1118.25zM1505.52 1263.09L1520.73 1289.45H1490.30zM621.23 373.41L636.45 399.77H606.01zM621.23 378.81L636.45 405.16H606.01zM626.62 368.02L641.84 394.38H611.40zM626.62 373.41L641.84 399.77H611.40zM626.62 378.81L641.84 405.16H611.40zM626.62 384.20L641.84 410.56H611.40zM632.01 368.02L647.23 394.38H616.79zM632.01 373.41L647.23 399.77H616.79zM632.01 378.81L647.23 405.16H616.79zM632.01 384.20L647.23 410.56H616.79zM632.01 389.59L647.23 415.95H616.79zM637.40 368.02L652.62 394.38H622.19zM637.40 373.41L652.62 399.77H622.19zM637.40 378.81L652.62 405.16H622.19zM637.40 384.20L652.62 410.56H622.19zM637.40 389.59L652.62 415.95H622.19zM642.80 362.63L658.01 388.99H627.58zM642.80 368.02L658.01 394.38H627.58zM642.80 373.41L658.01 399.77H627.58zM642.80 378.81L658.01 405.16H627.58zM642.80 384.20L658.01 410.56H627.58zM642.80 389.59L658.01 415.95H627.58zM648.19 357.24L663.41 383.60H632.97zM648.19 362.63L663.41 388.99H632.97zM648.19 368.02L663.41 394.38H632.97zM648.19 373.41L663.41 399.77H632.97zM648.19 378.81L663.41 405.16H632.97zM653.58 351.85L668.80 378.20H638.36zM653.58 357.24L668.80 383.60H638.36zM653.58 362.63L668.80 388.99H638.36zM653.58 368.02L668.80 394.38H638.36zM653.58 373.41L668.80 399.77H638.36zM653.58 378.81L668.80 405.16H638.36zM658.97 351.85L674.19 378.20H643.75zM658.97 357.24L674.19 383.60H643.75zM658.97 362.63L674.19 388.99H643.75zM658.97 368.02L674.19 394.38H643.75zM664.36 351.85L679.58 378.20H649.15zM664.36 357.24L679.58 383.60H649.15zM669.76 341.06L684.97 367.42H654.54zM669.76 346.45L684.97 372.81H654.54zM669.76 351.85L684.97 378.20H654.54zM669.76 357.24L684.97 383.60H654.54zM675.15 341.06L690.37 367.42H659.93zM675.15 346.45L690.37 372.81H659.93zM675.15 351.85L690.37 378.20H659.93zM675.15 357.24L690.37 383.60H659.93zM680.54 346.45L695.76 372.81H665.32zM680.54 351.85L695.76 378.20H665.32zM680.54 357.24L695.76 383.60H665.32zM685.93 341.06L701.15 367.42H670.71zM685.93 346.45L701.15 372.81H670.71zM685.93 351.85L701.15 378.20H670.71zM685.93 357.24L701.15 383.60H670.71zM691.32 330.28L706.54 356.64H676.11zM691.32 335.67L706.54 362.03H676.11zM691.32 341.06L706.54 367.42H676.11zM691.32 346.45L706.54 372.81H676.11zM691.32 351.85L706.54 378.20H676.11zM691.32 357.24L706.54 383.60H676.11zM696.72 330.28L711.93 356.64H681.50zM696.72 335.67L711.93 362.03H681.50zM696.72 341.06L711.93 367.42H681.50zM696.72 346.45L711.93 372.81H681.50zM696.72 351.85L711.93 378.20H681.50zM702.11 330.28L717.33 356.64H686.89zM702.11 335.67L717.33 362.03H686.89zM702.11 341.06L717.33 367.42H686.89zM702.11 346.45L717.33 372.81H686.89zM702.11 351.85L717.33 378.20H686.89z" fill="none" stroke="#ff0000" stroke-width="3.0" stroke-linejoin="round"/>
<rect x="120" y="30" width="1450" height="1449.5" fill="none" stroke="#000" stroke-width="3"/>
<path d="M168.30 1479.5V1510.5M437.90 1479.5V1510.5M707.50 1479.5V1510.5M977.10 1479.5V1510.5M1246.70 1479.5V1510.5M1516.30 1479.5V1510.5M120 78.25H89M120 347.85H89M120 617.45H89M120 887.05H89M120 1156.65H89M120 1426.25H89" stroke="#000" stroke-width="3" fill="none"/>
<text x="0" y="0" transform="translate(168.30 1588) scale(0.985 1)" font-size="50" text-anchor="middle">0</text><text x="0" y="0" transform="translate(437.90 1588) scale(0.985 1)" font-size="50" text-anchor="middle">50</text><text x="0" y="0" transform="translate(707.50 1588) scale(0.985 1)" font-size="50" text-anchor="middle">100</text><text x="0" y="0" transform="translate(977.10 1588) scale(0.985 1)" font-size="50" text-anchor="middle">150</text><text x="0" y="0" transform="translate(1246.70 1588) scale(0.985 1)" font-size="50" text-anchor="middle">200</text><text x="0" y="0" transform="translate(1516.30 1588) scale(0.985 1)" font-size="50" text-anchor="middle">250</text>
<text x="0" y="0" transform="translate(49 79.25) rotate(-90)" font-size="51.5" text-anchor="middle">0</text><text x="0" y="0" transform="translate(49 348.85) rotate(-90)" font-size="51.5" text-anchor="middle">50</text><text x="0" y="0" transform="translate(49 618.45) rotate(-90)" font-size="51.5" text-anchor="middle">100</text><text x="0" y="0" transform="translate(49 888.05) rotate(-90)" font-size="51.5" text-anchor="middle">150</text><text x="0" y="0" transform="translate(49 1157.65) rotate(-90)" font-size="51.5" text-anchor="middle">200</text><text x="0" y="0" transform="translate(49 1427.25) rotate(-90)" font-size="51.5" text-anchor="middle">250</text>
<path d="M1202.5 72.2L1217.7 98.6H1187.3z" fill="none" stroke="#ff0000" stroke-width="3" stroke-linejoin="round"/>
<rect x="1191.2" y="138.5" width="22.6" height="22.6" fill="none" stroke="#0000ff" stroke-width="3" stroke-linejoin="round"/>
<text x="0" y="0" transform="translate(1247.8 109) scale(0.947 1)" font-size="53">DNCON2-RR</text>
<text x="0" y="0" transform="translate(1247.8 169) scale(0.955 1)" font-size="53">Model-RR</text>
<text x="0" y="0" transform="translate(197.75 1450.9) scale(0.965 1)" font-size="104.2">Top-2L</text>
</svg>
</body></html>
